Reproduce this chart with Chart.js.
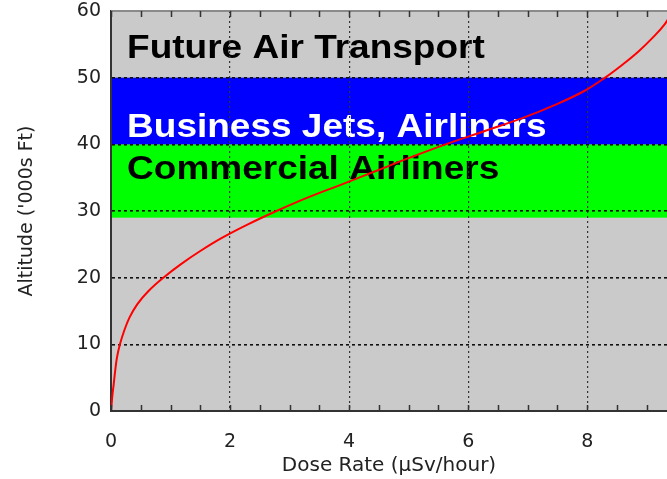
<!DOCTYPE html>
<html>
<head>
<meta charset="utf-8">
<script src="https://cdn.jsdelivr.net/npm/chart.js@4"></script>
<style>
  body { margin: 0; background: #fff; }
</style>
</head>
<body>
<canvas id="doseChart" width="667" height="479"></canvas>
<script>
// dose rate vs altitude
const altitude = [0, 1, 2.5, 4, 6, 8, 10, 12, 14, 16, 18, 20, 22, 24, 26, 28, 30, 32, 34, 36, 38, 40, 42, 44, 46, 48, 50, 52, 54, 56, 58, 60];
const doseRate = [0, 0.01, 0.025, 0.045, 0.07, 0.1, 0.15, 0.22, 0.31, 0.44, 0.63, 0.88, 1.17, 1.5, 1.87, 2.3, 2.78, 3.3, 3.88, 4.45, 5.02, 5.62, 6.28, 6.93, 7.48, 7.95, 8.3, 8.6, 8.87, 9.1, 9.3, 9.44];

const xTicks = [0, 2, 4, 6, 8];
const xMinorTicks = [0.5, 1, 1.5, 2.5, 3, 3.5, 4.5, 5, 5.5, 6.5, 7, 7.5, 8.5, 9];
const yTicks = [0, 10, 20, 30, 40, 50, 60];

// altitude bands ('000s ft)
const commercialBand = [29, 40];
const businessBand = [40, 50];
const bandLabels = ['Future Air Transport', 'Business Jets, Airliners', 'Commercial Airliners'];

// background, bands and band labels go under the grid
const bandsPlugin = {
    id: 'bands',
    beforeDraw(chart) {
        const { ctx, chartArea: a, scales: { x, y } } = chart;
        ctx.save();
        ctx.fillStyle = '#cacaca';
        ctx.fillRect(a.left, a.top, a.right - a.left, a.bottom - a.top);

        ctx.fillStyle = '#00ff00';
        ctx.fillRect(a.left, y.getPixelForValue(commercialBand[1]), a.right - a.left,
            y.getPixelForValue(commercialBand[0]) - y.getPixelForValue(commercialBand[1]));
        ctx.fillStyle = '#0000ff';
        ctx.fillRect(a.left, y.getPixelForValue(businessBand[1]), a.right - a.left,
            y.getPixelForValue(businessBand[0]) - y.getPixelForValue(businessBand[1]));

        const anchors = [[0.27, 52.9, '#000'], [0.27, 41.1, '#fff'], [0.27, 34.8, '#000']];
        ctx.font = 'bold 37px "Liberation Sans", Arial, sans-serif';
        ctx.textBaseline = 'alphabetic';
        ctx.textAlign = 'left';
        bandLabels.forEach((txt, i) => {
            const [vx, vy, col] = anchors[i];
            ctx.save();
            ctx.translate(x.getPixelForValue(vx), y.getPixelForValue(vy));
            ctx.scale(1, 0.9);
            ctx.fillStyle = col;
            ctx.fillText(txt, 0, 0);
            ctx.restore();
        });
        ctx.restore();
    },
    afterDraw(chart) {
        const { ctx, chartArea: a, scales: { x } } = chart;
        ctx.save();
        // top frame line
        ctx.strokeStyle = '#8a8a8a';
        ctx.lineWidth = 2;
        ctx.beginPath();
        ctx.moveTo(a.left, a.top);
        ctx.lineTo(a.right, a.top);
        ctx.stroke();
        // inward minor ticks, top and bottom
        ctx.strokeStyle = '#333';
        ctx.lineWidth = 1.5;
        ctx.beginPath();
        xMinorTicks.concat(xTicks).forEach(v => {
            const px = Math.round(x.getPixelForValue(v)) + 0.5;
            ctx.moveTo(px, a.bottom);
            ctx.lineTo(px, a.bottom - 6);
            ctx.moveTo(px, a.top);
            ctx.lineTo(px, a.top + 6);
        });
        ctx.stroke();
        ctx.restore();
    }
};

new Chart(document.getElementById('doseChart'), {
    type: 'line',
    data: {
        datasets: [{
            label: 'Dose rate',
            data: doseRate.map((d, i) => ({ x: d, y: altitude[i] })),
            borderColor: '#ff0000',
            borderWidth: 2,
            pointRadius: 0,
            tension: 0.4,
            fill: false
        }]
    },
    options: {
        responsive: false,
        animation: false,
        layout: { padding: { top: 11, right: 0, left: 0, bottom: 0 } },
        plugins: {
            legend: { display: false },
            tooltip: { enabled: false }
        },
        scales: {
            x: {
                type: 'linear',
                min: 0,
                max: 9.34,
                afterBuildTicks: s => { s.ticks = xTicks.map(v => ({ value: v })); },
                afterFit: s => {
                    s.height = 68;
                    s.paddingLeft = 0; s.paddingRight = 0;
                },
                ticks: {
                    padding: 20,
                    color: '#222',
                    font: { family: 'DejaVu Sans', size: 19 }
                },
                grid: {
                    drawTicks: false,
                    color: ctx => (ctx.tick && ctx.tick.value === 0) ? 'rgba(0,0,0,0)' : '#333',
                    lineWidth: 1.2
                },
                border: { display: true, color: '#333', width: 2, dash: [2, 3] },
                title: {
                    display: true,
                    text: 'Dose Rate (μSv/hour)',
                    color: '#222',
                    font: { family: 'DejaVu Sans', size: 20 },
                    padding: { top: 0, bottom: 1 }
                }
            },
            y: {
                type: 'linear',
                min: 0,
                max: 60,
                afterBuildTicks: s => { s.ticks = yTicks.map(v => ({ value: v })); },
                afterFit: s => {
                    s.width = 111;
                    s.paddingTop = 0; s.paddingBottom = 0;
                },
                ticks: {
                    padding: 10,
                    color: '#222',
                    font: { family: 'DejaVu Sans', size: 19 }
                },
                grid: {
                    drawTicks: false,
                    color: ctx => (ctx.tick && (ctx.tick.value === 0 || ctx.tick.value === 60)) ? 'rgba(0,0,0,0)' : '#111',
                    lineWidth: 1.6
                },
                border: { display: true, color: '#333', width: 2, dash: [3, 3] },
                title: {
                    display: true,
                    text: "Altitude ('000s Ft)",
                    color: '#222',
                    font: { family: 'DejaVu Sans', size: 19 },
                    padding: { top: 16, bottom: 0 }
                }
            }
        }
    },
    plugins: [bandsPlugin]
});
</script>
</body>
</html>
